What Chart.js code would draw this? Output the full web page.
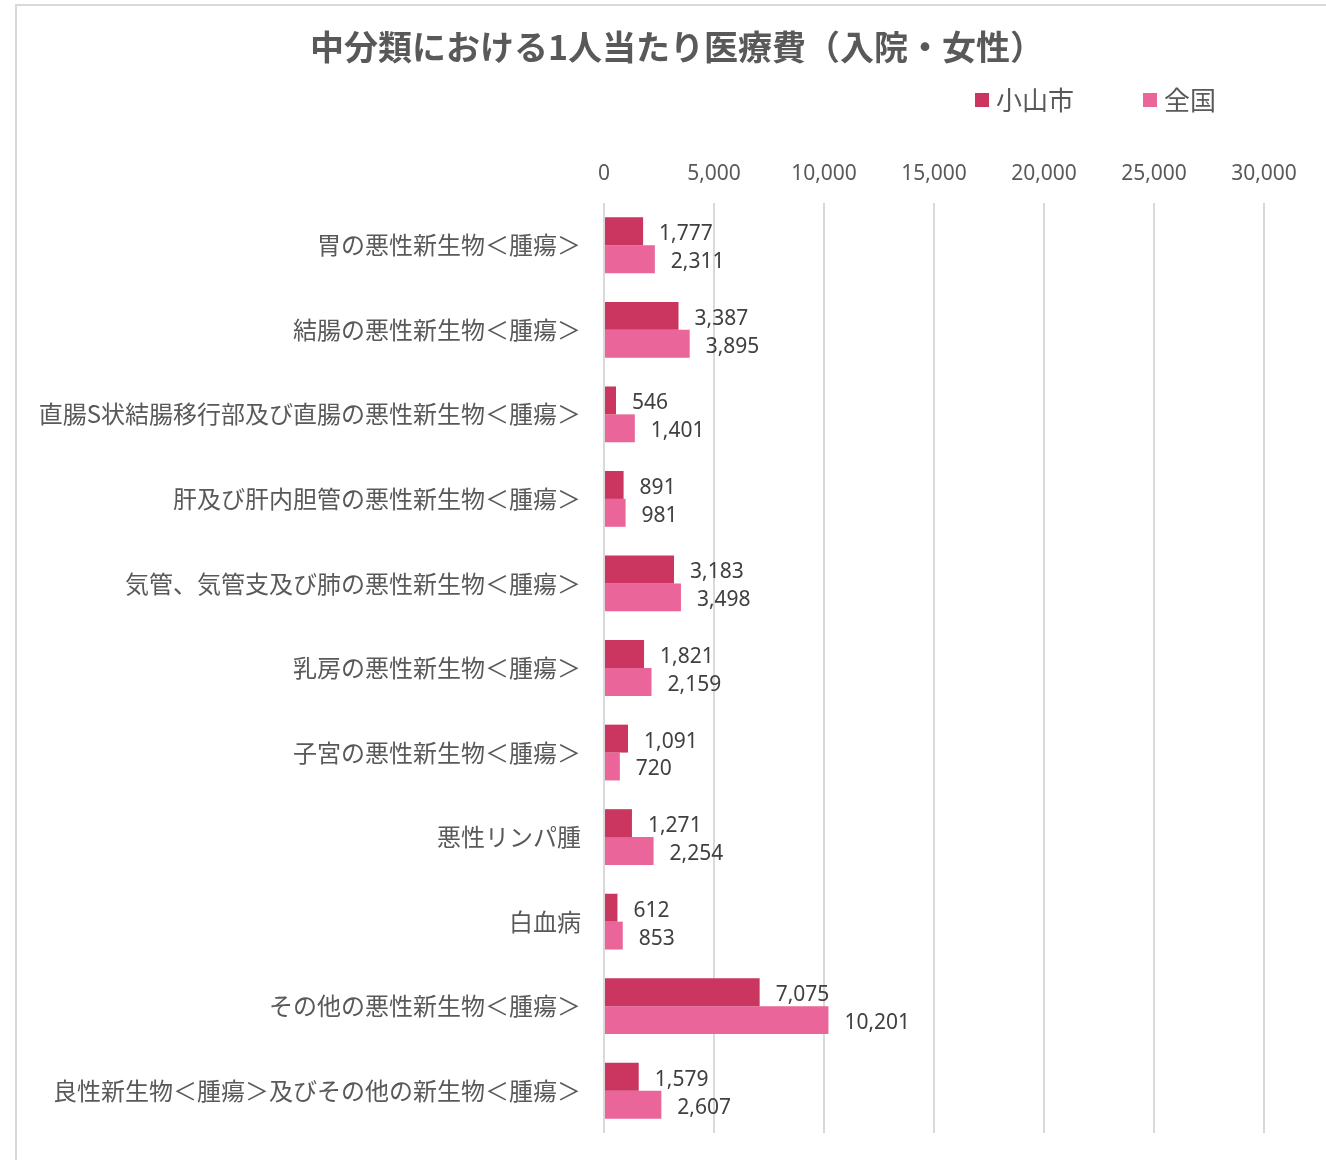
<!DOCTYPE html>
<html>
<head>
<meta charset="utf-8">
<script src="https://cdn.jsdelivr.net/npm/chart.js@4"></script>
<style>
  html, body { margin: 0; padding: 0; background: #ffffff; overflow: hidden; }
  #frame { position: absolute; left: 15px; top: 4px; width: 1400px; height: 1300px; border: 2px solid #d9d9d9; box-sizing: border-box; }
  #wrap { position: absolute; left: 0; top: 0; width: 1326px; height: 1160px; }
</style>
</head>
<body>
<div id="frame"></div>
<div id="wrap"><canvas id="c" width="1326" height="1160"></canvas></div>
<script>
const chartTitle = '中分類における1人当たり医療費（入院・女性）';
const categories = [
  '胃の悪性新生物＜腫瘍＞',
  '結腸の悪性新生物＜腫瘍＞',
  '直腸S状結腸移行部及び直腸の悪性新生物＜腫瘍＞',
  '肝及び肝内胆管の悪性新生物＜腫瘍＞',
  '気管、気管支及び肺の悪性新生物＜腫瘍＞',
  '乳房の悪性新生物＜腫瘍＞',
  '子宮の悪性新生物＜腫瘍＞',
  '悪性リンパ腫',
  '白血病',
  'その他の悪性新生物＜腫瘍＞',
  '良性新生物＜腫瘍＞及びその他の新生物＜腫瘍＞'
];
const seriesNames = ['小山市', '全国'];
const oyamaValues = [1777, 3387, 546, 891, 3183, 1821, 1091, 1271, 612, 7075, 1579];
const nationalValues = [2311, 3895, 1401, 981, 3498, 2159, 720, 2254, 853, 10201, 2607];
const axisTicks = [0, 5000, 10000, 15000, 20000, 25000, 30000];

const colors = ['#CB3660', '#EA6599'];
const jpFont = '"Noto Sans CJK JP", "Noto Sans", sans-serif';
const numFont = '"Noto Sans", "Liberation Sans", sans-serif';

const dataLabelPlugin = {
  id: 'dataLabels',
  afterDatasetsDraw(chart) {
    const ctx = chart.ctx;
    ctx.save();
    ctx.font = '21px ' + numFont;
    ctx.fillStyle = '#404040';
    ctx.textAlign = 'left';
    ctx.textBaseline = 'middle';
    chart.data.datasets.forEach((ds, i) => {
      const meta = chart.getDatasetMeta(i);
      meta.data.forEach((bar, j) => {
        ctx.fillText(ds.data[j].toLocaleString('en-US'), bar.x + 16, bar.y + 3);
      });
    });
    ctx.restore();
  }
};

const titleShift = {
  id: 'titleShift',
  afterLayout(chart) {
    const t = chart.titleBlock;
    if (t) { t.left += 45; t.right += 45; }
  }
};

const customLegend = {
  id: 'customLegend',
  afterDraw(chart) {
    const ctx = chart.ctx;
    ctx.save();
    ctx.font = '26px ' + jpFont;
    ctx.textBaseline = 'middle';
    ctx.textAlign = 'left';
    const starts = [975, 1143];
    const y = 100;
    chart.data.datasets.forEach((ds, i) => {
      const x = starts[i];
      ctx.fillStyle = ds.backgroundColor;
      ctx.fillRect(x, y - 7, 14, 14);
      ctx.fillStyle = '#595959';
      ctx.fillText(ds.label, x + 21, y);
    });
    ctx.restore();
  }
};

new Chart(document.getElementById('c'), {
  type: 'bar',
  data: {
    labels: categories,
    datasets: [
      { label: seriesNames[0], data: oyamaValues, backgroundColor: colors[0], borderWidth: 0 },
      { label: seriesNames[1], data: nationalValues, backgroundColor: colors[1], borderWidth: 0 }
    ]
  },
  options: {
    indexAxis: 'y',
    responsive: false,
    animation: false,
    devicePixelRatio: 1,
    layout: { padding: { left: 0, right: 62, top: 0, bottom: 27 } },
    datasets: { bar: { categoryPercentage: 0.66, barPercentage: 1.0 } },
    plugins: {
      legend: { display: false },
      tooltip: { enabled: false },
      title: {
        display: true,
        text: chartTitle,
        color: '#595959',
        font: { family: jpFont, size: 34, weight: 'bold' },
        padding: { top: 27, bottom: 0 }
      }
    },
    scales: {
      x: {
        position: 'top',
        min: 0,
        max: 30000,
        afterBuildTicks(scale) { scale.ticks = axisTicks.map(v => ({ value: v })); },
        afterFit(scale) { scale.height = 203 - 27 - 34 * 1.2; },
        ticks: {
          color: '#595959',
          font: { family: numFont, size: 21 },
          padding: 16,
          callback: (v) => Number(v).toLocaleString('en-US')
        },
        grid: { color: '#d9d9d9', lineWidth: 2, drawTicks: false },
        border: { display: false }
      },
      y: {
        afterFit(scale) { scale.width = 604; scale.paddingTop = 0; scale.paddingBottom = 0; },
        ticks: {
          color: '#595959',
          font: { family: jpFont, size: 24 },
          padding: 23
        },
        grid: { display: false, drawTicks: false },
        border: { display: false }
      }
    }
  },
  plugins: [dataLabelPlugin, titleShift, customLegend]
});
</script>
</body>
</html>
